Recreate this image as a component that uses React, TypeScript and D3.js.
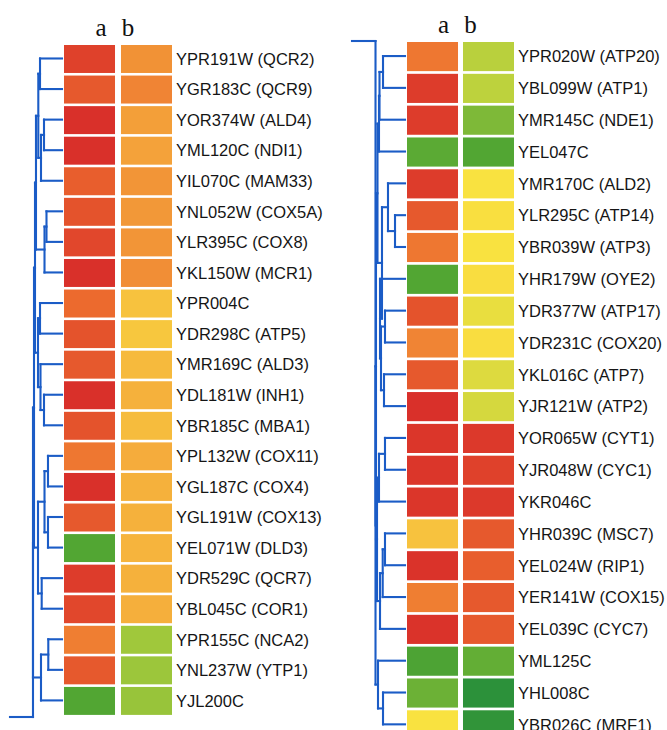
import React from "react";
import * as d3 from "d3";

// ---- Left cluster ----
const LEFT_GENES = [
  "YPR191W (QCR2)", "YGR183C (QCR9)", "YOR374W (ALD4)", "YML120C (NDI1)",
  "YIL070C (MAM33)", "YNL052W (COX5A)", "YLR395C (COX8)", "YKL150W (MCR1)",
  "YPR004C", "YDR298C (ATP5)", "YMR169C (ALD3)", "YDL181W (INH1)",
  "YBR185C (MBA1)", "YPL132W (COX11)", "YGL187C (COX4)", "YGL191W (COX13)",
  "YEL071W (DLD3)", "YDR529C (QCR7)", "YBL045C (COR1)", "YPR155C (NCA2)",
  "YNL237W (YTP1)", "YJL200C",
];
const LEFT_A = [2.7, 2.3, 3.0, 3.0, 2.2, 2.4, 2.6, 3.0, 2.0, 2.4, 2.3, 3.0, 2.4, 1.8, 3.0, 2.3, -2.0, 2.8, 2.6, 1.7, 2.3, -2.0];
const LEFT_B = [1.4, 1.6, 1.2, 1.15, 1.35, 1.3, 1.35, 1.45, 0.6, 0.5, 0.75, 0.9, 0.7, 1.0, 0.9, 0.9, 0.85, 0.9, 0.95, -1.1, -1.15, -1.2];

// ---- Right cluster ----
const RIGHT_GENES = [
  "YPR020W (ATP20)", "YBL099W (ATP1)", "YMR145C (NDE1)", "YEL047C",
  "YMR170C (ALD2)", "YLR295C (ATP14)", "YBR039W (ATP3)", "YHR179W (OYE2)",
  "YDR377W (ATP17)", "YDR231C (COX20)", "YKL016C (ATP7)", "YJR121W (ATP2)",
  "YOR065W (CYT1)", "YJR048W (CYC1)", "YKR046C", "YHR039C (MSC7)",
  "YEL024W (RIP1)", "YER141W (COX15)", "YEL039C (CYC7)", "YML125C",
  "YHL008C", "YBR026C (MRF1)",
];
const RIGHT_A = [1.8, 2.8, 2.8, -1.9, 2.8, 2.3, 1.8, -2.0, 2.4, 1.6, 2.3, 3.0, 2.9, 2.9, 2.9, 0.6, 2.95, 1.7, 2.95, -2.1, -1.7, 0.0];
const RIGHT_B = [-0.8, -0.75, -1.5, -2.0, 0.0, 0.05, 0.0, 0.1, -0.2, 0.1, -0.35, -0.45, 2.85, 2.7, 2.85, 2.3, 2.2, 2.3, 2.3, -1.8, -2.8, -2.7];

const COLUMNS = ["a", "b"];

// Expression colour ramp: green (low) -> yellow -> red (high)
const COLOR_DOMAIN = [-3, -2, -1, 0, 1, 2, 3];
const COLOR_RANGE = ["#238c3c", "#52a633", "#a9cc3c", "#f9e240", "#f5ac3c", "#ec6a2e", "#d9302a"];

// Dendrograms: leaves are row indices, d is the merge distance
type TreeNode = number | { d: number; c: TreeNode[] };

const LEFT_TREE: TreeNode = {
  d: 0.967,
  c: [
    {
      d: 0.933,
      c: [
        {
          d: 0.9,
          c: [
            {
              d: 0.867,
              c: [
                { d: 0.79, c: [{ d: 0.733, c: [0, 1] }, { d: 0.7, c: [{ d: 0.6, c: [2, 3] }, 4] }] },
                { d: 0.583, c: [{ d: 0.517, c: [5, 6] }, 7] },
              ],
            },
            {
              d: 0.8,
              c: [
                { d: 0.733, c: [8, 9] },
                { d: 0.717, c: [10, { d: 0.6, c: [11, 12] }] },
              ],
            },
          ],
        },
        {
          d: 0.8,
          c: [
            { d: 0.583, c: [{ d: 0.467, c: [13, 14] }, { d: 0.467, c: [15, 16] }] },
            { d: 0.677, c: [17, 18] },
          ],
        },
      ],
    },
    { d: 0.7, c: [{ d: 0.457, c: [19, 20] }, 21] },
  ],
};

const RIGHT_TREE: TreeNode = {
  d: 0.983,
  c: [
    {
      d: 0.967,
      c: [
        {
          d: 0.917,
          c: [
            { d: 0.867, c: [{ d: 0.85, c: [{ d: 0.733, c: [0, 1] }, 2] }, 3] },
            {
              d: 0.767,
              c: [
                { d: 0.567, c: [4, { d: 0.333, c: [5, 6] }] },
                {
                  d: 0.833,
                  c: [7, { d: 0.8, c: [{ d: 0.667, c: [8, 9] }, { d: 0.7, c: [10, 11] }] }],
                },
              ],
            },
          ],
        },
        {
          d: 0.933,
          c: [
            { d: 0.867, c: [{ d: 0.667, c: [12, 13] }, 14] },
            { d: 0.833, c: [{ d: 0.743, c: [{ d: 0.667, c: [15, 16] }, 17] }, 18] },
          ],
        },
      ],
    },
    { d: 0.9, c: [19, { d: 0.733, c: [20, 21] }] },
  ],
};

const color = d3
  .scaleLinear<string>()
  .domain(COLOR_DOMAIN)
  .range(COLOR_RANGE)
  .interpolate(d3.interpolateRgb);

type Seg = { x1: number; y1: number; x2: number; y2: number };

function layoutTree(
  node: TreeNode,
  yOf: (i: number) => number,
  xOf: (d: number) => number,
  segs: Seg[]
): { x: number; y: number } {
  if (typeof node === "number") return { x: xOf(0), y: yOf(node) };
  const kids = node.c.map((c) => layoutTree(c, yOf, xOf, segs));
  const x = xOf(node.d);
  const ys = kids.map((k) => k.y);
  const y0 = d3.min(ys) as number;
  const y1 = d3.max(ys) as number;
  segs.push({ x1: x, y1: y0, x2: x, y2: y1 });
  kids.forEach((k) => segs.push({ x1: x, y1: k.y, x2: k.x, y2: k.y }));
  return { x, y: (y0 + y1) / 2 };
}

type PanelProps = {
  genes: string[];
  a: number[];
  b: number[];
  tree: TreeNode;
  top: number;
  step: number;
  colRange: [number, number];
  colPad: number;
  headerY: number;
  leafX: number;
  stubY: number;
  stubX: number;
};

function Panel(p: PanelProps) {
  const n = p.genes.length;
  const y = d3
    .scaleBand<number>()
    .domain(d3.range(n))
    .range([p.top, p.top + n * p.step])
    .paddingInner(0.085)
    .paddingOuter(0)
    .align(0);
  const x = d3.scaleBand<string>().domain(COLUMNS).range(p.colRange).paddingInner(p.colPad);
  const dist = d3.scaleLinear().domain([0, 1]).range([p.leafX, p.leafX - 30]);

  const segs: Seg[] = [];
  const root = layoutTree(p.tree, (i) => (y(i) as number) + y.bandwidth() / 2 - 0.5, dist, segs);
  // trunk continues to the root stub
  segs.push({ x1: root.x, y1: root.y, x2: root.x, y2: p.stubY });
  segs.push({ x1: p.stubX, y1: p.stubY, x2: root.x, y2: p.stubY });

  const boundary = ((x("a") as number) + x.bandwidth() + (x("b") as number)) / 2;
  const labelX = p.colRange[1] + 4;

  return (
    <g>
      <text x={boundary - 17} y={p.headerY} textAnchor="middle" fontFamily="'Liberation Serif', 'Times New Roman', serif" fontSize={25} fill="#111">a</text>
      <text x={boundary + 10} y={p.headerY} textAnchor="middle" fontFamily="'Liberation Serif', 'Times New Roman', serif" fontSize={25} fill="#111">b</text>
      {p.genes.map((g, i) => (
        <g key={g}>
          <rect x={x("a")} y={y(i)} width={x.bandwidth()} height={y.bandwidth()} fill={color(p.a[i])} />
          <rect x={x("b")} y={y(i)} width={x.bandwidth()} height={y.bandwidth()} fill={color(p.b[i])} />
          <text
            x={labelX}
            y={(y(i) as number) + y.bandwidth() / 2}
            dy="0.35em"
            fontFamily="'Liberation Sans', Arial, sans-serif"
            fontSize={16.5}
            fill="#151515"
          >
            {g}
          </text>
        </g>
      ))}
      <g stroke="#1b5cc6" strokeWidth={2.1} strokeLinecap="square" fill="none">
        {segs.map((s, i) => (
          <line key={i} x1={s.x1} y1={s.y1} x2={s.x2} y2={s.y2} />
        ))}
      </g>
    </g>
  );
}

export default function App() {
  const width = 667;
  const height = 730;
  return (
    <svg
      width={width}
      height={height}
      style={{ position: "absolute", left: 0, top: 0, background: "#fff" }}
    >
      <rect width={width} height={height} fill="#fff" />
      <Panel
        genes={LEFT_GENES}
        a={LEFT_A}
        b={LEFT_B}
        tree={LEFT_TREE}
        top={45}
        step={30.45}
        colRange={[64, 172]}
        colPad={0.105}
        headerY={36}
        leafX={62}
        stubY={717}
        stubX={10}
      />
      <Panel
        genes={RIGHT_GENES}
        a={RIGHT_A}
        b={RIGHT_B}
        tree={RIGHT_TREE}
        top={42}
        step={31.7}
        colRange={[407, 514]}
        colPad={0.089}
        headerY={33}
        leafX={405}
        stubY={41}
        stubX={352}
      />
    </svg>
  );
}
